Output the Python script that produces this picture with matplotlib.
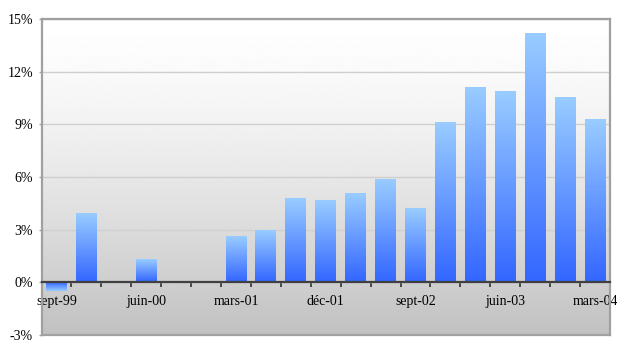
import numpy as np
import matplotlib
matplotlib.use("Agg")
import matplotlib.pyplot as plt
from matplotlib.colors import LinearSegmentedColormap

# quarterly growth, sept-99 .. mars-04
quarters = ["sept-99", "déc-99", "mars-00", "juin-00", "sept-00", "déc-00",
            "mars-01", "juin-01", "sept-01", "déc-01", "mars-02", "juin-02",
            "sept-02", "déc-02", "mars-03", "juin-03", "sept-03", "déc-03",
            "mars-04"]
growth = [-0.5, 3.9, 0.0, 1.3, 0.0, 0.0,
          2.6, 2.95, 4.75, 4.65, 5.05, 5.85,
          4.2, 9.1, 11.1, 10.85, 14.15, 10.5,
          9.25]
label_every = 3
y_ticks = [-3, 0, 3, 6, 9, 12, 15]

plt.rcParams['font.family'] = ['Liberation Serif', 'DejaVu Serif']

fig = plt.figure(figsize=(6.17, 3.40), dpi=100)
ax = fig.add_axes([41.5 / 617, 5 / 340, 568.5 / 617, 316 / 340])

# plot area background: white at top fading to grey
t = np.linspace(0, 1, 256) ** 1.4
bg = (255 - 62 * t) / 255.0
ax.imshow(bg.reshape(-1, 1), cmap='gray', vmin=0, vmax=1, extent=[0, 1, 0, 1],
          transform=ax.transAxes, aspect='auto', origin='upper', zorder=-1,
          interpolation='bicubic')

x = np.arange(len(quarters))
bars = ax.bar(x, growth, width=0.7, facecolor='none', edgecolor='none', zorder=2)

# each bar gets its own gradient: dark blue at the base, light blue at the tip
bar_cmap = LinearSegmentedColormap.from_list('bar', ['#3366FF', '#99CCFF'])
grad = np.linspace(0, 1, 128).reshape(-1, 1)
for b in bars:
    h = b.get_height()
    if h == 0:
        continue
    x0, y0, w = b.get_x(), b.get_y(), b.get_width()
    ax.imshow(grad, cmap=bar_cmap, extent=[x0, x0 + w, y0, y0 + h],
              origin='lower', aspect='auto', zorder=2, interpolation='bicubic')

ax.set_xlim(-0.5, len(quarters) - 0.5)
ax.set_ylim(-3, 15)

ax.set_yticks(y_ticks)
ax.set_yticklabels([f"{v}%" for v in y_ticks])
ax.yaxis.grid(True, color='#CFCFCF', linewidth=1.0)
ax.set_axisbelow(True)
ax.tick_params(axis='y', length=2.2, width=1, color='#A0A0A0', pad=4,
               labelsize=10, labelcolor='#000000')

# category axis sits on the zero line
ax.spines['bottom'].set_position(('data', 0))
ax.spines['bottom'].set_color('#404040')
ax.spines['bottom'].set_linewidth(1.6)
ax.spines['bottom'].set_zorder(3)
ax.set_xticks(np.arange(-0.5, len(quarters), 1))
ax.set_xticklabels([])
ax.tick_params(axis='x', which='major', length=3.6, width=1.2, color='#303030',
               direction='out')
ax.set_xticks(x[::label_every], minor=True)
ax.set_xticklabels(quarters[::label_every], minor=True)
ax.tick_params(axis='x', which='minor', length=0, pad=9, labelsize=10)

for side in ['left', 'top', 'right']:
    ax.spines[side].set_color('#A0A0A0')
    ax.spines[side].set_linewidth(1.6)
ax.plot([0, 1], [0, 0], transform=ax.transAxes, color='#A0A0A0', lw=1.6,
        clip_on=False, zorder=3)

fig.savefig("out.png", dpi=100)
